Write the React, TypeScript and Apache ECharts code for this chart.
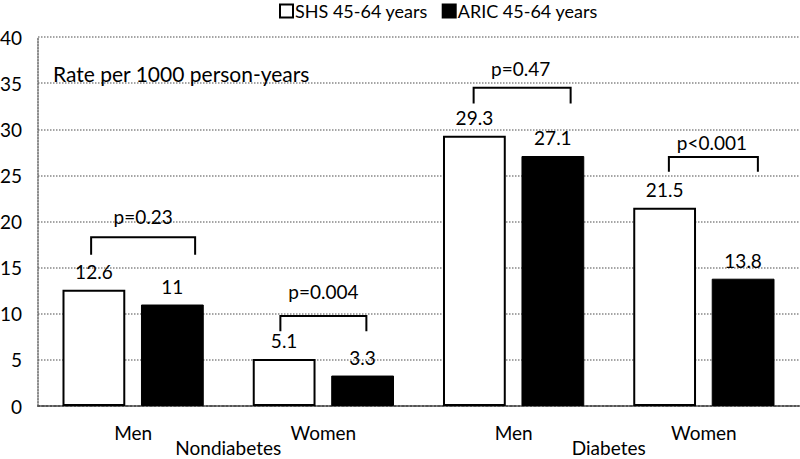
import React, { useEffect, useRef } from "react";
import * as echarts from "echarts";

const categories = ["Men", "Women", "Men", "Women"];
const groups = ["Nondiabetes", "Diabetes"];
const shsValues = [12.6, 5.1, 29.3, 21.5];
const aricValues = [11, 3.3, 27.1, 13.8];
const seriesNames = ["SHS 45-64 years", "ARIC 45-64 years"];
const pLabels = ["p=0.23", "p=0.004", "p=0.47", "p<0.001"];
const bracketTop = [18.3, 9.75, 34.5, 27.0];
const bracketLegEnd = [16.4, 8.1, 32.8, 25.4];
const pTextValue = [20.5, 12.4, 36.6, 28.6];

const FONT = "Lato";
const FS = 19;

export default function App() {
  const ref = useRef<HTMLDivElement>(null);
  useEffect(() => {
    const chart = echarts.init(ref.current!, null, { renderer: "svg" });
    chart.setOption({
      animation: false,
      textStyle: { fontFamily: FONT, color: "#000" },
      legend: {
        top: 1,
        left: 279,
        padding: 0,
        itemWidth: 13,
        itemHeight: 13,
        itemGap: 14,
        icon: "rect",
        textStyle: { fontFamily: FONT, fontSize: 18, lineHeight: 20, color: "#000", padding: [0, 0, 0, -3] },
        data: seriesNames,
      },
      grid: { left: 38, right: 1, top: 37, bottom: 53, containLabel: false, outerBoundsMode: "none" },
      xAxis: [
        {
          type: "category",
          data: categories,
          axisLine: { lineStyle: { color: "#555", type: "dotted", width: 2 } },
          axisTick: { show: false },
          axisLabel: { margin: 17, fontSize: FS, color: "#000", fontFamily: FONT },
        },
        {
          type: "category",
          data: groups,
          position: "bottom",
          axisLine: { show: false },
          axisTick: { show: false },
          axisLabel: { margin: 32, fontSize: FS, color: "#000", fontFamily: FONT },
        },
      ],
      yAxis: {
        type: "value",
        min: 0,
        max: 40,
        interval: 5,
        axisLine: { show: true, lineStyle: { color: "#666", type: "dotted", width: 1.5 } },
        axisTick: { show: false },
        axisLabel: { margin: 16, fontSize: FS, color: "#000", fontFamily: FONT },
        splitLine: { lineStyle: { color: "#888", type: "dotted", width: 1.5 } },
      },
      series: [
        {
          name: seriesNames[0],
          type: "bar",
          data: shsValues,
          barWidth: "33%",
          barGap: "25%",
          itemStyle: { color: "#fff", borderColor: "#000", borderWidth: 2 },
          label: { show: true, position: "top", distance: 9, fontSize: FS, color: "#000", fontFamily: FONT },
        },
        {
          name: seriesNames[1],
          type: "bar",
          data: aricValues,
          barWidth: "33%",
          itemStyle: { color: "#000", borderColor: "#000", borderWidth: 1 },
          label: { show: true, position: "top", distance: 9, fontSize: FS, color: "#000", fontFamily: FONT },
        },
      ],
    });

    const leftOff = [-42, -43, -40, -35];
    const rightOff = [62, 43, 57, 54];
    const textOff = [10, 0, 7, 8];
    const elements: any[] = [];
    categories.forEach((_, i) => {
      const [cx, yTop] = chart.convertToPixel({ xAxisIndex: 0, yAxisIndex: 0 }, [i, bracketTop[i]]) as number[];
      const yLeg = chart.convertToPixel({ yAxisIndex: 0 }, bracketLegEnd[i]) as number;
      const yText = chart.convertToPixel({ yAxisIndex: 0 }, pTextValue[i]) as number;
      const xl = cx + leftOff[i];
      const xr = cx + rightOff[i];
      elements.push({
        type: "polyline",
        shape: { points: [[xl, yLeg], [xl, yTop], [xr, yTop], [xr, yLeg]] },
        style: { stroke: "#000", lineWidth: 2, fill: null },
      });
      elements.push({
        type: "text",
        x: cx + textOff[i],
        y: yText,
        style: { text: pLabels[i], fontSize: FS, fontFamily: FONT, fill: "#000", textAlign: "center", textVerticalAlign: "middle" },
      });
    });
    elements.push({
      type: "text",
      x: 53,
      y: 73,
      style: { text: "Rate per 1000 person-years", fontSize: 21, fontFamily: FONT, fill: "#000", textAlign: "left", textVerticalAlign: "middle" },
    });
    chart.setOption({ graphic: elements });
    return () => chart.dispose();
  }, []);
  return <div ref={ref} style={{ width: 800, height: 459, position: "absolute", left: 0, top: 0 }} />;
}
